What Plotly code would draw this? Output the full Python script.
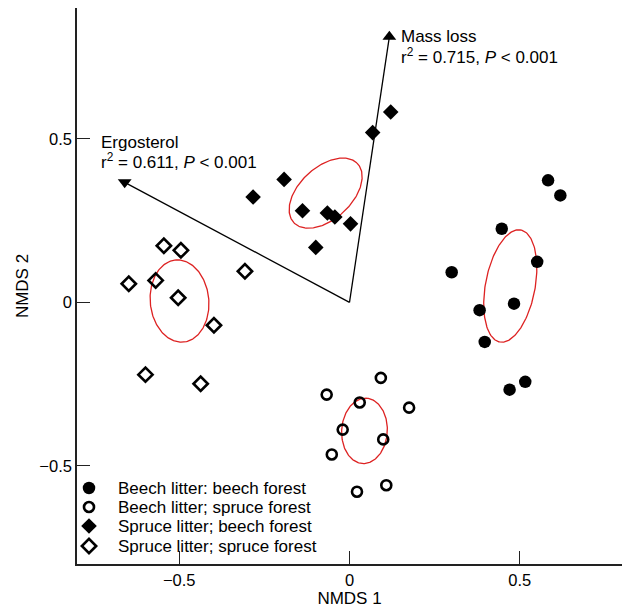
import numpy as np
import plotly.graph_objects as go

# ---- data ----
bb_x = [0.583, 0.619, 0.447, 0.551, 0.300, 0.483, 0.382, 0.397, 0.516, 0.470]
bb_y = [0.373, 0.327, 0.225, 0.124, 0.092, -0.004, -0.024, -0.121, -0.243, -0.267]

bs_x = [0.092, -0.067, 0.030, 0.175, -0.020, 0.099, -0.052, 0.108, 0.022]
bs_y = [-0.231, -0.282, -0.306, -0.322, -0.389, -0.419, -0.465, -0.559, -0.579]

sb_x = [-0.192, -0.283, -0.138, -0.065, -0.043, 0.003, -0.099, 0.068, 0.121]
sb_y = [0.376, 0.322, 0.280, 0.273, 0.261, 0.240, 0.168, 0.519, 0.582]

ss_x = [-0.545, -0.495, -0.648, -0.569, -0.503, -0.398, -0.599, -0.437, -0.307]
ss_y = [0.173, 0.159, 0.057, 0.067, 0.014, -0.070, -0.221, -0.249, 0.095]

series_names = ["Beech litter: beech forest", "Beech litter; spruce forest",
                "Spruce litter; beech forest", "Spruce litter; spruce forest"]

# ellipse parameters (center, semi-axes, rotation in degrees)
ell_cx = [0.472, 0.044, -0.070, -0.499]
ell_cy = [0.050, -0.393, 0.334, 0.004]
ell_a = [0.174, 0.100, 0.130, 0.126]
ell_b = [0.073, 0.067, 0.078, 0.086]
ell_angle = [80, 87, 45, 95]

# fitted environmental vectors
vec_names = ["Mass loss", "Ergosterol"]
vec_x = [0.117, -0.66]
vec_y = [0.812, 0.367]
vec_r2 = ["0.715", "0.611"]

x_ticks = [-0.5, 0, 0.5]
y_ticks = [-0.5, 0, 0.5]

FONT = "Liberation Sans, Arial, sans-serif"
FS = 17

series_x = [bb_x, bs_x, sb_x, ss_x]
series_y = [bb_y, bs_y, sb_y, ss_y]
series_marker = [
    dict(symbol="circle", size=12.5, color="black"),
    dict(symbol="circle-open", size=10, color="black", line=dict(width=2.6)),
    dict(symbol="diamond", size=12, color="black"),
    dict(symbol="diamond-open", size=11, color="black", line=dict(width=2.6)),
]

fig = go.Figure()

# ellipses
t = np.linspace(0, 2 * np.pi, 200)
for cx, cy, a, b, ang in zip(ell_cx, ell_cy, ell_a, ell_b, ell_angle):
    th = np.deg2rad(ang)
    ex = cx + a * np.cos(t) * np.cos(th) - b * np.sin(t) * np.sin(th)
    ey = cy + a * np.cos(t) * np.sin(th) + b * np.sin(t) * np.cos(th)
    fig.add_trace(go.Scatter(x=ex, y=ey, mode="lines",
                             line=dict(color="#dd2222", width=1.3),
                             showlegend=False, hoverinfo="skip"))

# vectors
vec_symbols = ["triangle-up", "triangle-down"]
for vx, vy, sym in zip(vec_x, vec_y, vec_symbols):
    fig.add_trace(go.Scatter(x=[0, vx], y=[0, vy], mode="lines",
                             line=dict(color="black", width=1.3),
                             showlegend=False, hoverinfo="skip"))
    fig.add_trace(go.Scatter(x=[vx], y=[vy], mode="markers",
                             marker=dict(symbol=sym, size=12, color="black"),
                             showlegend=False, hoverinfo="skip"))

# points
for name, xs, ys, mk in zip(series_names, series_x, series_y, series_marker):
    fig.add_trace(go.Scatter(x=xs, y=ys, mode="markers", name=name,
                             marker=mk, showlegend=False))

# page geometry (the page adds an 8 px body margin around the figure)
FIG_W, FIG_H = 620, 600
M_L, M_R, M_T, M_B = 69, 6, 0, 44
PLOT_W = FIG_W - M_L - M_R
PLOT_H = FIG_H - M_T - M_B

# manual legend on a hidden pixel-unit overlay axis (x2/y2)
leg_sym_x = 12      # px from plot left
leg_text_x = 39     # px from plot left
leg_rows_y = [76, 57, 38, 18]  # px above plot bottom
for name, mk, ry in zip(series_names, series_marker, leg_rows_y):
    fig.add_trace(go.Scatter(x=[leg_sym_x], y=[ry], xaxis="x2", yaxis="y2",
                             mode="markers", marker=mk, showlegend=False,
                             hoverinfo="skip"))
    fig.add_annotation(x=leg_text_x, y=ry, xref="x2", yref="y2", text=name,
                       showarrow=False, xanchor="left", yanchor="middle",
                       font=dict(family=FONT, size=FS, color="black"))

# vector labels: (x offset of text left, y offset of first line) in px from arrow tip
label_offsets = [(10, 0), (-26, 40)]
for name, r2, vx, vy, (dx, dy) in zip(vec_names, vec_r2, vec_x, vec_y, label_offsets):
    fig.add_annotation(x=vx, y=vy, xref="x", yref="y", text=name,
                       showarrow=False, xanchor="left", yanchor="middle",
                       xshift=dx, yshift=dy,
                       font=dict(family=FONT, size=FS, color="black"))
    fig.add_annotation(x=vx, y=vy, xref="x", yref="y",
                       text="r<sup>2</sup> = " + r2 + ", <i>P</i> < 0.001",
                       showarrow=False, xanchor="left", yanchor="middle",
                       xshift=dx, yshift=dy - 19,
                       font=dict(family=FONT, size=FS, color="black"))

axis_common = dict(showline=True, mirror=True, linecolor="#222", linewidth=1.5,
                   ticks="inside", ticklen=13, tickwidth=1.3, tickcolor="#222",
                   showgrid=False, zeroline=False, automargin=False,
                   tickfont=dict(family=FONT, size=16.5, color="black"))

fig.update_layout(
    width=FIG_W, height=FIG_H,
    margin=dict(l=M_L, r=M_R, t=M_T, b=M_B),
    paper_bgcolor="white", plot_bgcolor="white",
    font=dict(family=FONT, size=FS, color="black"),
    xaxis=dict(range=[-0.8, 0.8], tickvals=x_ticks,
               title=dict(text="NMDS 1", font=dict(family=FONT, size=FS), standoff=4),
               **axis_common),
    yaxis=dict(range=[-0.8, 0.9], tickvals=y_ticks,
               title=dict(text="NMDS 2", font=dict(family=FONT, size=FS), standoff=6),
               **axis_common),
    xaxis2=dict(range=[0, PLOT_W], overlaying="x", visible=False, fixedrange=True),
    yaxis2=dict(range=[0, PLOT_H], overlaying="y", visible=False, fixedrange=True),
    showlegend=False,
)

fig.write_html("out.html")
